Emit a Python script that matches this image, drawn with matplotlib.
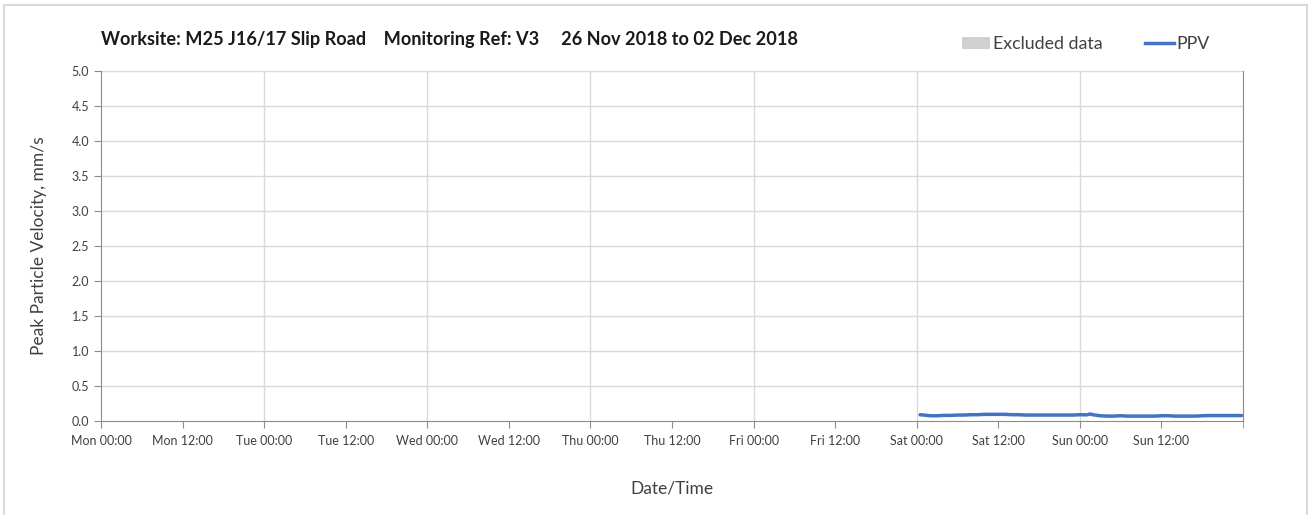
import matplotlib
matplotlib.use("Agg")
import matplotlib.pyplot as plt
from matplotlib.lines import Line2D
from matplotlib.patches import Patch

plt.rcParams['font.family'] = ['Lato', 'DejaVu Sans']

# Data (hours since Mon 00:00)
hours = [120.5, 121, 122, 123, 124, 125, 126, 127, 128, 129, 130, 131, 132, 133, 134, 135,
         136, 137, 138, 139, 140, 141, 142, 143, 144, 145, 145.5, 146, 147, 148, 149, 150,
         151, 152, 153, 154, 155, 156, 157, 158, 159, 160, 161, 162, 163, 164, 165, 166, 167, 167.8]
ppv = [0.09, 0.085, 0.075, 0.075, 0.08, 0.08, 0.085, 0.085, 0.09, 0.09, 0.095, 0.095, 0.095, 0.095, 0.09, 0.09,
       0.085, 0.085, 0.085, 0.085, 0.085, 0.085, 0.085, 0.085, 0.09, 0.088, 0.1, 0.088, 0.075, 0.07, 0.07, 0.075,
       0.07, 0.07, 0.07, 0.07, 0.07, 0.075, 0.075, 0.07, 0.07, 0.07, 0.07, 0.075, 0.078, 0.078, 0.078, 0.078, 0.078, 0.078]

tick_labels = ["Mon 00:00", "Mon 12:00", "Tue 00:00", "Tue 12:00", "Wed 00:00", "Wed 12:00",
               "Thu 00:00", "Thu 12:00", "Fri 00:00", "Fri 12:00", "Sat 00:00", "Sat 12:00",
               "Sun 00:00", "Sun 12:00"]
y_ticks = [0.0, 0.5, 1.0, 1.5, 2.0, 2.5, 3.0, 3.5, 4.0, 4.5, 5.0]

W, H = 1309, 515
fig = plt.figure(figsize=(W / 100, H / 100), dpi=100)
ax = fig.add_axes([101 / W, 1 - 421 / H, (1243 - 101) / W, (421 - 71) / H])

ax.set_xlim(0, 168)
ax.set_ylim(0, 5.0)
ax.set_xticks(range(0, 168, 12))
ax.set_xticklabels(tick_labels)
ax.set_xticks([168], minor=True)
ax.set_yticks(y_ticks)
ax.set_yticklabels([f"{v:.1f}" for v in y_ticks])

for v in y_ticks[1:]:
    ax.axhline(v, color='#d9d9d9', lw=1, zorder=0)
for d in range(24, 168, 24):
    ax.axvline(d, color='#d9d9d9', lw=1, zorder=0)

ax.plot(hours, ppv, color='#4472c4', lw=2.5, solid_capstyle='round')

for s in ['left', 'bottom', 'right']:
    ax.spines[s].set_color('#8c8c8c')
ax.spines['top'].set_visible(False)
ax.tick_params(axis='both', which='both', direction='out', length=5, color='#8c8c8c',
               labelsize=9, labelcolor='#404040')
ax.tick_params(axis='x', pad=5)

ax.set_ylabel("Peak Particle Velocity, mm/s", fontsize=12.5, color='#404040', labelpad=18)
ax.set_xlabel("Date/Time", fontsize=12.5, color='#404040', labelpad=24)

fig.text(101 / W, 1 - 40 / H, "Worksite: M25 J16/17 Slip Road    Monitoring Ref: V3     26 Nov 2018 to 02 Dec 2018",
         fontsize=13.1, fontweight='bold', color='#1a1a1a', va='center', ha='left')

handles = [Patch(facecolor='#d0d0d0', edgecolor='none', label='Excluded data'),
           Line2D([0], [0], color='#4472c4', lw=2.5, label='PPV')]
fig.legend(handles=handles, loc='center left', bbox_to_anchor=(946 / W, 1 - 44 / H), ncol=2,
           frameon=False, fontsize=12.8, handlelength=1.6, handletextpad=0.15, columnspacing=2.4,
           labelcolor='#404040')

# outer border
bc = '#d9d9d9'
fig.add_artist(Line2D([4 / W, 4 / W], [0, 1 - 5 / H], color=bc, lw=1.5))
fig.add_artist(Line2D([4 / W, 1307 / W], [1 - 5 / H, 1 - 5 / H], color=bc, lw=1.5))
fig.add_artist(Line2D([1307 / W, 1307 / W], [0, 1 - 5 / H], color=bc, lw=1.5))

fig.savefig("out.png", dpi=100)
